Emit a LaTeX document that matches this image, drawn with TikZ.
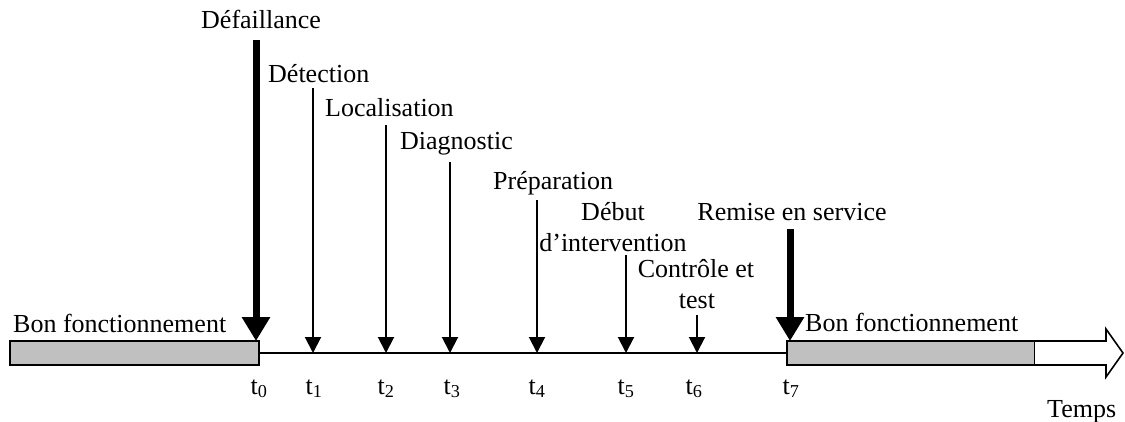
\documentclass[tikz,border=0pt]{standalone}
\usepackage{fontspec}
\setmainfont{Liberation Serif}
\usetikzlibrary{arrows.meta}
\definecolor{barfill}{HTML}{C0C0C0}
\begin{document}
\begin{tikzpicture}[x=1pt,y=-1pt,
  font=\fontsize{26}{30}\selectfont,
  lbl/.style={inner sep=0pt,anchor=base west},
  clbl/.style={inner sep=0pt,anchor=base},
  tlbl/.style={inner sep=0pt,anchor=base},
  bar/.style={draw=black,line width=1.6pt,fill=barfill},
  event/.style={line width=2pt,-{Triangle[width=16pt,length=16pt]}},
  bigevent/.style={line width=7pt,-{Triangle[width=27pt,length=24pt]}},
  axis/.style={line width=1.6pt}]
\useasboundingbox (0,0) rectangle (1125,421);

% time axis and the two operating periods
\draw[bar] (10,341) rectangle (259,365);
\draw[bar] (787,341) rectangle (1035,365);
\coordinate (a0) at (259,353);
\coordinate (a7) at (787,353);
\draw[axis] (a0) -- (a7);
% open arrow for the time direction
\draw[line width=1.6pt,fill=white,line join=miter]
  (1035,341) -- (1106,341) -- (1106,329) -- (1123,353) -- (1106,377)
  -- (1106,365) -- (1035,365);

% event markers
\foreach \n/\x/\y in {1/313/88, 2/386/125, 3/450/162, 4/537/200, 5/626/255, 6/697/315}{
  \coordinate (top\n) at (\x,\y);
  \coordinate (tip\n) at (\x,353);
  \draw[event] (top\n) -- (tip\n);
}
\coordinate (top0) at (256,40);
\coordinate (tip0) at (256,341);
\coordinate (top7) at (790,229);
\coordinate (tip7) at (790,341);
\draw[bigevent] (top0) -- (tip0);
\draw[bigevent] (top7) -- (tip7);

% event labels
\node[lbl] (defaillance) at (201,28) {Défaillance};
\node[lbl] (detection) at (268,82) {Détection};
\node[lbl] (localisation) at (325,116) {Localisation};
\node[lbl] (diagnostic) at (400,149) {Diagnostic};
\node[lbl] (preparation) at (493,189) {Préparation};
\node[clbl] (debut) at (613,220) {Début};
\node[clbl] (intervention) at (613,251) {d’intervention};
\node[clbl] (controle) at (696,277) {Contrôle et};
\node[clbl] (test) at (697,308) {test};
\node[clbl] (remise) at (792,220) {Remise en service};
\node[lbl] (bonA) at (13,332) {Bon fonctionnement};
\node[lbl] (bonB) at (805,331) {Bon fonctionnement};

% instants
\foreach \n/\x in {0/259, 1/314, 2/386, 3/452, 4/537, 5/626, 6/694, 7/791}{
  \node[tlbl] (t\n) at (\x,394) {t\textsubscript{\n}};
}
\node[lbl] (temps) at (1047,417) {Temps};
\end{tikzpicture}
\end{document}
